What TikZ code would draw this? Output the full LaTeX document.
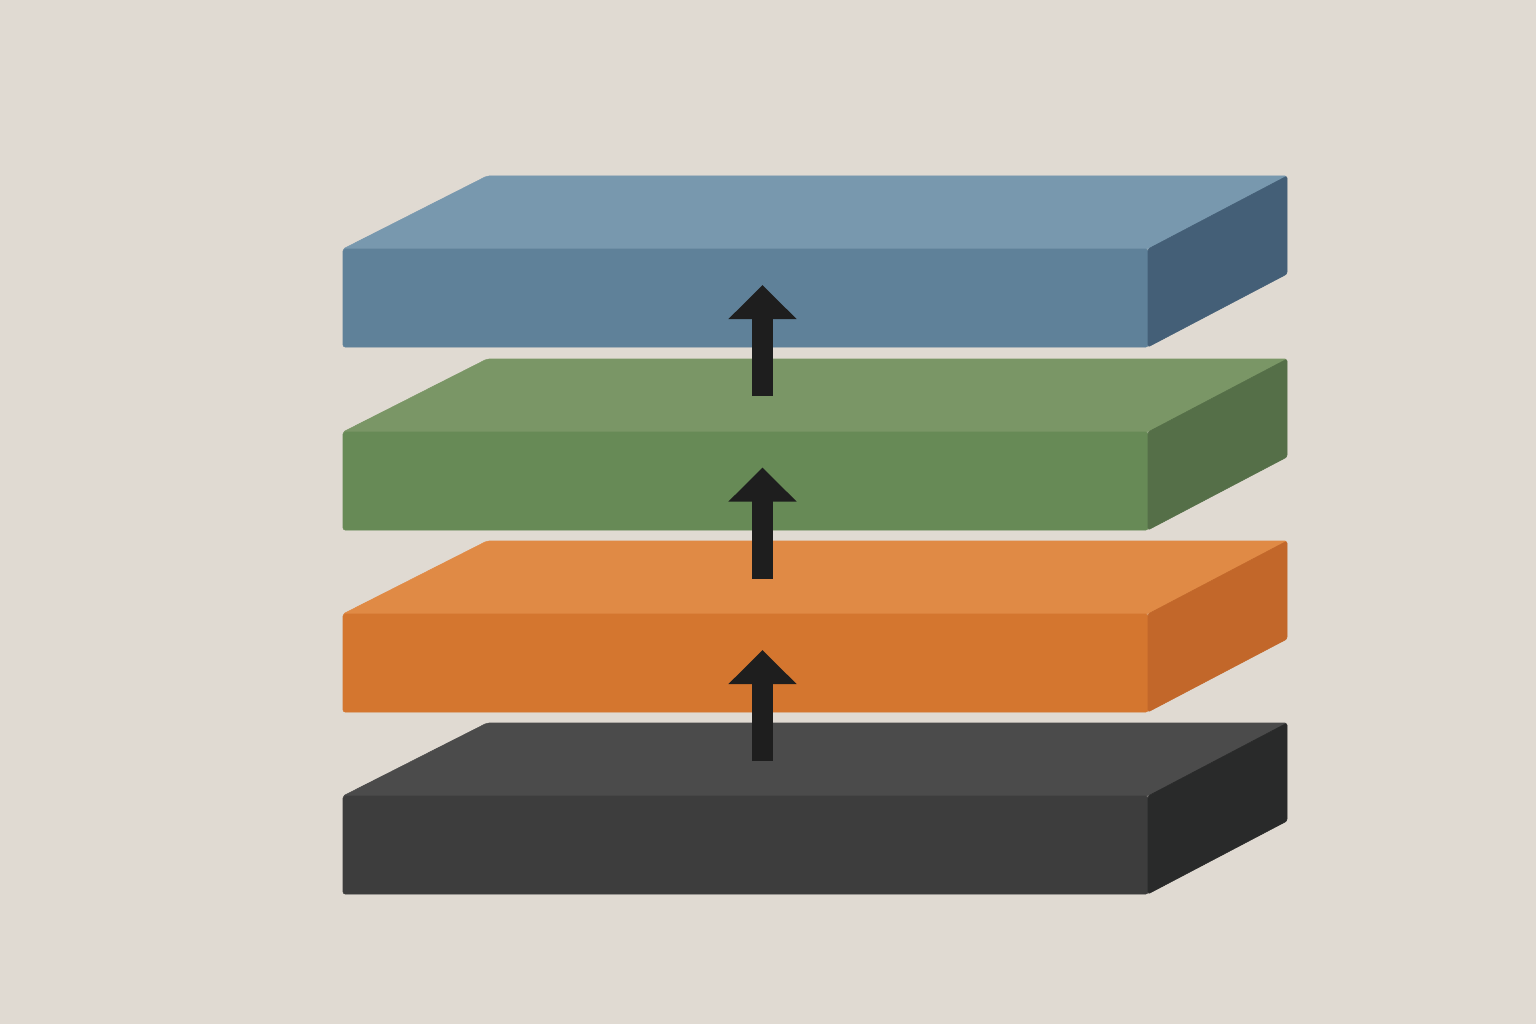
\documentclass[tikz,border=0pt]{standalone}
\usetikzlibrary{positioning}
\usetikzlibrary{arrows.meta}

\definecolor{paper}{HTML}{E0DAD2}
\definecolor{bluetop}{HTML}{7898AE}
\definecolor{bluefront}{HTML}{5F8199}
\definecolor{blueside}{HTML}{445F77}
\definecolor{greentop}{HTML}{7A9666}
\definecolor{greenfront}{HTML}{678A56}
\definecolor{greenside}{HTML}{556F48}
\definecolor{orangetop}{HTML}{E08A45}
\definecolor{orangefront}{HTML}{D4762F}
\definecolor{orangeside}{HTML}{C2672A}
\definecolor{darktop}{HTML}{4B4B4B}
\definecolor{darkfront}{HTML}{3D3D3D}
\definecolor{darkside}{HTML}{292A2A}
\definecolor{liftblack}{HTML}{1E1E1E}

\tikzset{
	slabface/.style = {line width = 0.3pt, rounded corners = 1.2pt, line join = round},
	lift/.style = {liftblack, line width = 21*0.02cm, -{Triangle[width = 66*0.02cm, length = 34*0.02cm]}}
}

\begin{document}
\begin{tikzpicture}[x = 0.02cm, y = -0.02cm]
					\fill[paper] (0, 0) rectangle (1536, 1024);
					% layers, bottom one first
					\foreach \y/\c in {796/dark, 614/orange, 432/green, 249/blue} {
						\filldraw[slabface, \c top] (343, \y)--(487, \y-73)--(1287, \y-73)--(1148, \y)--cycle;
						\filldraw[slabface, \c front] (343, \y)--(1148, \y)--(1148, \y+98)--(343, \y+98)--cycle;
						\filldraw[slabface, \c side] (1148, \y)--(1287, \y-73)--(1287, \y+25)--(1148, \y+98)--cycle;
					}
					% arrows between layers
					\foreach \t [count = \i] in {285, 467.5, 650} {
						\coordinate (base\i) at (762.5, \t+111);
						\coordinate (tip\i) at (762.5, \t);
						\draw[lift] (base\i)--(tip\i);
					}
				\end{tikzpicture}
\end{document}
